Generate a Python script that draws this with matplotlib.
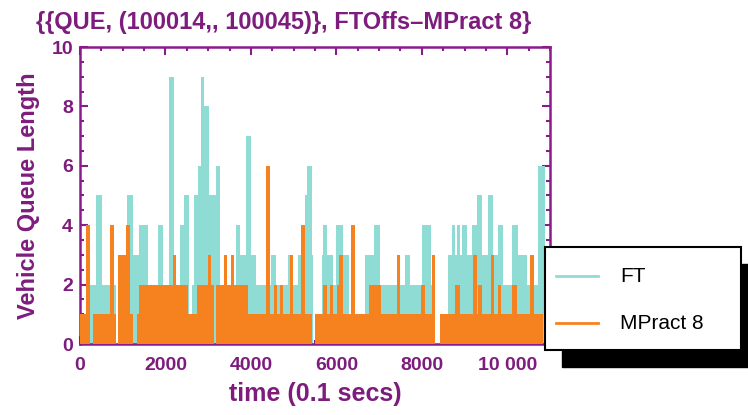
import matplotlib
matplotlib.use("Agg")
import matplotlib.pyplot as plt
from matplotlib.patches import Rectangle
from matplotlib.lines import Line2D
from matplotlib.ticker import MultipleLocator, FuncFormatter

# ---- data (step changes: start time in 0.1 s, queue length) ----
ft_time = [0, 240, 375, 505, 845, 895, 1100, 1230, 1390, 1590, 1820, 1945, 2090, 2210,
           2330, 2425, 2555, 2615, 2660, 2760, 2830, 2910, 3030, 3185, 3285, 3655, 3755,
           3890, 4010, 4115, 4475, 4595, 4865, 4980, 5100, 5260, 5320, 5425, 5460, 5510,
           5655, 5690, 5785, 5925, 6000, 6160, 6295, 6670, 6870, 7010, 7410, 7490, 7600,
           7735, 8000, 8205, 8315, 8415, 8615, 8695, 8780, 8815, 8895, 8930, 9050, 9170,
           9280, 9405, 9550, 9660, 9775, 9895, 10105, 10255, 10460, 10715, 10880]
ft_queue = [1, 2, 5, 2, 0, 1, 5, 3, 4, 2, 4, 2, 9, 2,
            4, 5, 1, 2, 5, 6, 9, 8, 5, 6, 2, 4, 3,
            7, 3, 2, 3, 2, 3, 2, 3, 5, 6, 3, 0, 1,
            3, 4, 3, 2, 4, 3, 1, 3, 4, 2, 3, 2, 3,
            2, 4, 2, 0, 1, 3, 4, 3, 4, 3, 4, 3, 4,
            5, 3, 5, 3, 4, 2, 4, 3, 2, 6, 0]

mp_time = [0, 140, 240, 315, 710, 800, 845, 895, 1075, 1175, 1230, 1330, 1370, 2170,
           2245, 2520, 2740, 2990, 3065, 3130, 3190, 3380, 3440, 3540, 3600, 3925, 4355,
           4450, 4535, 4615, 4670, 4745, 4905, 4980, 5180, 5275, 5420, 5495, 5690, 5770,
           5850, 5925, 6005, 6050, 6155, 6350, 6440, 6765, 7045, 7420, 7500, 7970, 8065,
           8230, 8310, 8415, 8785, 8890, 9200, 9280, 9315, 9400, 9610, 9690, 9775, 9855,
           10105, 10230, 10540, 10635, 10835]
mp_queue = [1, 4, 0, 1, 4, 1, 0, 3, 4, 1, 0, 1, 2, 3,
            2, 1, 2, 3, 2, 0, 2, 3, 2, 3, 2, 1, 6,
            1, 2, 1, 2, 1, 3, 1, 4, 1, 0, 1, 2, 1,
            2, 1, 2, 3, 1, 4, 1, 2, 1, 3, 1, 2, 1,
            3, 0, 1, 2, 1, 3, 1, 2, 1, 3, 1, 2, 1,
            2, 1, 3, 1, 0]

series_names = ["FT", "MPract 8"]
x_ticks = [0, 2000, 4000, 6000, 8000, 10000]
y_ticks = [0, 2, 4, 6, 8, 10]

PURPLE = "#8A1B8A"
TXT = "#7D1C7D"
CYAN = "#8FDCD4"
ORANGE = "#F5821F"
W, H = 748, 415
FAM = ["Liberation Sans", "DejaVu Sans"]

fig = plt.figure(figsize=(W / 100, H / 100), dpi=100)
ax = fig.add_axes([80 / W, (H - 344) / H, 470 / W, 297 / H])

ax.fill_between(ft_time, ft_queue, step="post", color=CYAN, linewidth=0, zorder=2)
ax.fill_between(mp_time, mp_queue, step="post", color=ORANGE, linewidth=0, zorder=3)

ax.set_xlim(0, 11000)
ax.set_ylim(0, 10)
ax.set_xticks(x_ticks)
ax.set_yticks(y_ticks)
ax.xaxis.set_minor_locator(MultipleLocator(500))
ax.yaxis.set_minor_locator(MultipleLocator(0.5))


def fmt(v, pos):
    v = int(round(v))
    return f"{v:,}".replace(",", " ") if v >= 10000 else str(v)


ax.xaxis.set_major_formatter(FuncFormatter(fmt))

for s in ax.spines.values():
    s.set_color(PURPLE)
    s.set_linewidth(1.8)
ax.tick_params(which="both", direction="in", top=True, right=True, color=PURPLE, width=1.5)
ax.tick_params(which="major", length=6)
ax.tick_params(which="minor", length=3)
for lab in ax.get_xticklabels() + ax.get_yticklabels():
    lab.set_family(FAM)
    lab.set_weight("bold")
    lab.set_size(14)
    lab.set_color(TXT)
ax.tick_params(axis="x", pad=9)
ax.tick_params(axis="y", pad=5)

ax.set_xlabel("time (0.1 secs)", family=FAM, weight="bold", size=18, color=TXT, labelpad=6)
ax.set_ylabel("Vehicle Queue Length", family=FAM, weight="bold", size=17, color=TXT,
              labelpad=8)

fig.text(36 / W, 1 - 22 / H, "{{QUE, (100014,, 100045)}, FTOffs\u2013MPract 8}",
         family=FAM, weight="bold", size=17, color=TXT, ha="left", va="center")

# ---- legend with hard shadow ----
lx0, ly0, lx1, ly1 = 545, 247, 741, 350
sh = 17
fig.add_artist(Rectangle(((lx0 + sh) / W, 1 - (ly1 + sh) / H), (lx1 - lx0) / W, (ly1 - ly0) / H,
                         transform=fig.transFigure, facecolor="black", edgecolor="black", zorder=10))
fig.add_artist(Rectangle((lx0 / W, 1 - ly1 / H), (lx1 - lx0) / W, (ly1 - ly0) / H,
                         transform=fig.transFigure, facecolor="white", edgecolor="black",
                         linewidth=1.5, zorder=11))
for i, (name, col) in enumerate(zip(series_names, [CYAN, ORANGE])):
    yy = 1 - (276 + 47 * i) / H
    fig.add_artist(Line2D([556 / W, 598 / W], [yy, yy], transform=fig.transFigure, color=col,
                          linewidth=2, zorder=12))
    fig.text(620 / W, yy, name, family=FAM, size=15, color="black", ha="left", va="center",
             zorder=12)

fig.savefig("out.png", dpi=100)
